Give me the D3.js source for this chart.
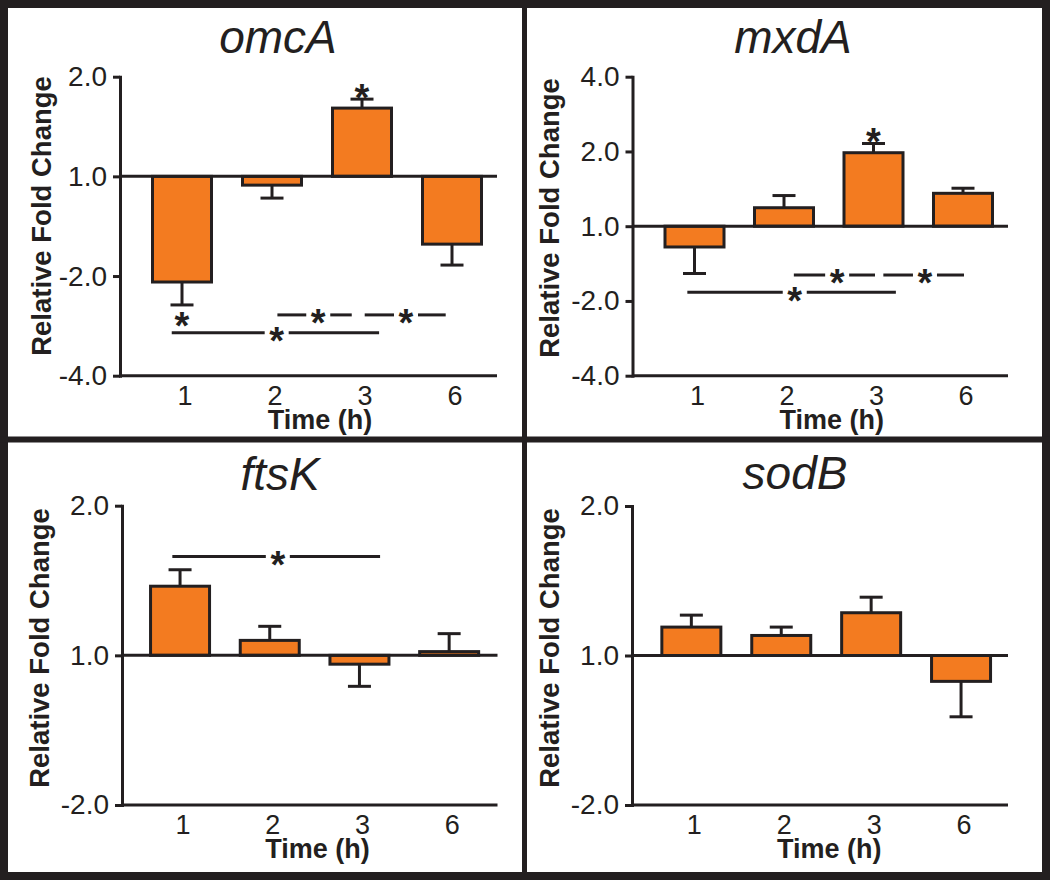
<!DOCTYPE html>
<html>
<head>
<meta charset="utf-8">
<script src="https://cdn.jsdelivr.net/npm/d3@7/dist/d3.min.js"></script>
<style>
  html, body { margin: 0; padding: 0; background: #fff; }
  svg { display: block; }
  text { font-family: "Liberation Sans", Arial, Helvetica, sans-serif; fill: #231F20; }
</style>
</head>
<body>
<svg id="chart" width="1050" height="880"></svg>
<script>
// ---------------- DATA (log2 of relative fold change) ----------------
const timepoints = ["1", "2", "3", "6"];
const xAxisTitle = "Time (h)";
const yAxisTitle = "Relative Fold Change";

const omcA_values = [-1.06, -0.088, 0.685, -0.68];
const omcA_errors = [0.23, 0.13, 0.09, 0.21];
const mxdA_values = [-0.278, 0.247, 0.983, 0.44];
const mxdA_errors = [0.355, 0.163, 0.123, 0.068];
const ftsK_values = [0.462, 0.10, -0.059, 0.025];
const ftsK_errors = [0.11, 0.094, 0.148, 0.12];
const sodB_values = [0.19, 0.134, 0.286, -0.173];
const sodB_errors = [0.08, 0.056, 0.104, 0.237];

// y tick positions (log2) and their fold-change labels
const omcA_ticks = [1, 0, -1, -2];
const omcA_tickLabels = ["2.0", "1.0", "-2.0", "-4.0"];
const mxdA_ticks = [2, 1, 0, -1, -2];
const mxdA_tickLabels = ["4.0", "2.0", "1.0", "-2.0", "-4.0"];
const small_ticks = [1, 0, -1];
const small_tickLabels = ["2.0", "1.0", "-2.0"];

// significance brackets: from/to/star in time-index units, y in log2 units
const omcA_brackets = [
  { from: -0.114, to: 2.19, star: 1.052, y: -1.568 },
  { from: 1.06, to: 1.886, star: 1.514, y: -1.39 },
  { from: 2.03, to: 2.93, star: 2.489, y: -1.39 }
];
const omcA_stars = [{ x: 0, y: -1.417 }, { x: 2, y: 0.868 }];
const mxdA_brackets = [
  { from: -0.08, to: 2.25, star: 1.12, y: -0.884 },
  { from: 1.11, to: 2.017, star: 1.594, y: -0.653 },
  { from: 2.11, to: 3.011, star: 2.575, y: -0.653 }
];
const mxdA_stars = [{ x: 2, y: 1.243 }];
const ftsK_brackets = [{ from: -0.086, to: 2.23, star: 1.09, y: 0.66 }];
const ftsK_stars = [];
const sodB_brackets = [];
const sodB_stars = [];

// ---------------- DRAWING ----------------
const INK = "#231F20";
const ORANGE = "#F37B20";
const svg = d3.select("#chart");

svg.append("rect").attr("width", 1050).attr("height", 880).attr("fill", "#fff");

const panels = [
  { title: "omcA", values: omcA_values, errors: omcA_errors, ticks: omcA_ticks, labels: omcA_tickLabels,
    domain: [-2, 1], brackets: omcA_brackets, stars: omcA_stars,
    axisX: 120.5, endX: 497, yTop: 76.7, yBot: 375.7, barStart: 137, barEnd: 497,
    titleX: 278, titleY: 53, ytX: 41, ytY: 216 },
  { title: "mxdA", values: mxdA_values, errors: mxdA_errors, ticks: mxdA_ticks, labels: mxdA_tickLabels,
    domain: [-2, 2], brackets: mxdA_brackets, stars: mxdA_stars,
    axisX: 633, endX: 1008, yTop: 76.7, yBot: 375.7, barStart: 649.75, barEnd: 1007.75,
    titleX: 793, titleY: 53, ytX: 549, ytY: 218 },
  { title: "ftsK", values: ftsK_values, errors: ftsK_errors, ticks: small_ticks, labels: small_tickLabels,
    domain: [-1, 1], brackets: ftsK_brackets, stars: ftsK_stars,
    axisX: 122.5, endX: 497.5, yTop: 505.7, yBot: 805, barStart: 135.2, barEnd: 494,
    titleX: 280, titleY: 490, ytX: 39, ytY: 648 },
  { title: "sodB", values: sodB_values, errors: sodB_errors, ticks: small_ticks, labels: small_tickLabels,
    domain: [-1, 1], brackets: sodB_brackets, stars: sodB_stars,
    axisX: 632.5, endX: 1008, yTop: 506, yBot: 805, barStart: 646.4, barEnd: 1006,
    titleX: 795, titleY: 489, ytX: 549, ytY: 648 }
];

const BAR_W = 59, CAP = 11.5, STAR_FS = 38;

function drawStar(g, x, y) {
  g.append("text").attr("x", x).attr("y", y + STAR_FS * 0.56)
    .attr("text-anchor", "middle").style("font-size", STAR_FS + "px")
    .style("font-weight", "bold").text("*");
}

panels.forEach(p => {
  const g = svg.append("g");
  const x = d3.scaleLinear().domain([-0.5, timepoints.length - 0.5]).range([p.barStart, p.barEnd]);
  const y = d3.scaleLinear().domain(p.domain).range([p.yBot, p.yTop]);

  // title
  g.append("text").attr("x", p.titleX).attr("y", p.titleY).attr("text-anchor", "middle")
    .style("font-size", "46px").style("font-style", "italic").text(p.title);

  // y title
  g.append("text").attr("transform", `translate(${p.ytX},${p.ytY}) rotate(-90)`)
    .attr("text-anchor", "middle").attr("dominant-baseline", "central")
    .style("font-size", "27.5px").style("font-weight", "bold").text(yAxisTitle);

  // bars
  g.selectAll("rect.bar").data(p.values).enter().append("rect").attr("class", "bar")
    .attr("x", (d, i) => x(i) - BAR_W / 2)
    .attr("width", BAR_W)
    .attr("y", d => Math.min(y(0), y(d)))
    .attr("height", d => Math.abs(y(d) - y(0)))
    .attr("fill", ORANGE).attr("stroke", INK).attr("stroke-width", 3);

  // error bars
  p.values.forEach((v, i) => {
    const s = v >= 0 ? 1 : -1;
    const end = v + s * p.errors[i];
    g.append("line").attr("x1", x(i)).attr("x2", x(i)).attr("y1", y(v)).attr("y2", y(end))
      .attr("stroke", INK).attr("stroke-width", 3);
    g.append("line").attr("x1", x(i) - CAP).attr("x2", x(i) + CAP).attr("y1", y(end)).attr("y2", y(end))
      .attr("stroke", INK).attr("stroke-width", 3);
  });

  // baseline (fold change 1.0) and x axis line
  [0, p.domain[0]].forEach(v => {
    g.append("line").attr("x1", p.axisX).attr("x2", p.endX).attr("y1", y(v)).attr("y2", y(v))
      .attr("stroke", INK).attr("stroke-width", 3);
  });

  // y axis
  const ax = g.append("g").attr("transform", `translate(${p.axisX - 0.5},0)`)
    .call(d3.axisLeft(y).tickValues(p.ticks).tickFormat((d, i) => p.labels[i])
      .tickSize(7).tickSizeOuter(0).tickPadding(6));
  ax.select(".domain").attr("stroke", INK).attr("stroke-width", 3).attr("stroke-linecap", "square");
  ax.selectAll(".tick line").attr("stroke", INK).attr("stroke-width", 3);
  ax.selectAll(".tick text").style("font-size", "28px").attr("fill", INK)
    .style("font-family", "'Liberation Sans', Arial, sans-serif");

  // x tick labels
  g.selectAll("text.xl").data(timepoints).enter().append("text").attr("class", "xl")
    .attr("x", (d, i) => x(i) + 3).attr("y", y(p.domain[0]) + 29)
    .attr("text-anchor", "middle").style("font-size", "27px").text(d => d);

  // x title
  g.append("text").attr("x", (x(0) + x(timepoints.length - 1)) / 2 + 3).attr("y", y(p.domain[0]) + 53)
    .attr("text-anchor", "middle").style("font-size", "27px").style("font-weight", "bold").text(xAxisTitle);

  // significance brackets
  p.brackets.forEach(b => {
    const yy = y(b.y), sx = x(b.star);
    g.append("line").attr("x1", x(b.from)).attr("x2", sx - 12).attr("y1", yy).attr("y2", yy)
      .attr("stroke", INK).attr("stroke-width", 3);
    g.append("line").attr("x1", sx + 12).attr("x2", x(b.to)).attr("y1", yy).attr("y2", yy)
      .attr("stroke", INK).attr("stroke-width", 3);
    drawStar(g, sx, yy);
  });
  p.stars.forEach(s => drawStar(g, x(s.x), y(s.y)));
});

// frame and dividers
svg.append("rect").attr("x", 4).attr("y", 4).attr("width", 1042).attr("height", 872)
  .attr("fill", "none").attr("stroke", INK).attr("stroke-width", 8);
svg.append("line").attr("x1", 524.5).attr("x2", 524.5).attr("y1", 0).attr("y2", 880)
  .attr("stroke", INK).attr("stroke-width", 5);
svg.append("line").attr("x1", 0).attr("x2", 1050).attr("y1", 439.5).attr("y2", 439.5)
  .attr("stroke", INK).attr("stroke-width", 6);
</script>
</body>
</html>
